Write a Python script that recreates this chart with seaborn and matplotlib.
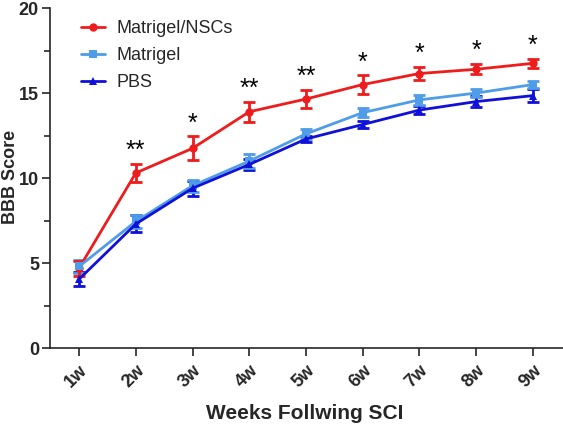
import pandas as pd
import matplotlib
matplotlib.use("Agg")
import matplotlib.pyplot as plt
import seaborn as sns

weeks = ["1w", "2w", "3w", "4w", "5w", "6w", "7w", "8w", "9w"]
nsc_mean = [4.7, 10.3, 11.75, 13.9, 14.65, 15.5, 16.15, 16.4, 16.75]
nsc_err = [0.45, 0.55, 0.7, 0.6, 0.55, 0.55, 0.4, 0.3, 0.25]
mat_mean = [4.8, 7.45, 9.55, 11.0, 12.6, 13.85, 14.6, 15.0, 15.5]
mat_err = [0.4, 0.4, 0.35, 0.4, 0.3, 0.25, 0.3, 0.25, 0.2]
pbs_mean = [4.05, 7.3, 9.4, 10.8, 12.3, 13.15, 14.0, 14.5, 14.85]
pbs_err = [0.4, 0.5, 0.45, 0.35, 0.2, 0.2, 0.25, 0.3, 0.4]
stars = ["", "**", "*", "**", "**", "*", "*", "*", "*"]

groups = ["Matrigel/NSCs", "Matrigel", "PBS"]
colors = {"Matrigel/NSCs": "#ee1c1c", "Matrigel": "#4f9ce8", "PBS": "#1010d8"}
markers = {"Matrigel/NSCs": "o", "Matrigel": "s", "PBS": "^"}

rows = []
for g, m, e in zip(groups, [nsc_mean, mat_mean, pbs_mean], [nsc_err, mat_err, pbs_err]):
    for i, w in enumerate(weeks):
        rows.append({"week": w, "pos": i, "group": g, "score": m[i], "err": e[i]})
df = pd.DataFrame(rows)

sns.set_style("ticks")
plt.rcParams["font.family"] = ["Liberation Sans", "DejaVu Sans"]

fig = plt.figure(figsize=(5.63, 4.24), dpi=100)
ax = fig.add_axes([0.089, 0.179, 0.911, 0.802])

# draw back to front: PBS, Matrigel, NSCs
for g in ["PBS", "Matrigel", "Matrigel/NSCs"]:
    d = df[df["group"] == g]
    ax.errorbar(d["pos"], d["score"], yerr=d["err"], fmt="none",
                ecolor=colors[g], elinewidth=2, capsize=4, capthick=2, zorder=2)

sns.lineplot(data=df, x="pos", y="score", hue="group", style="group",
             hue_order=groups, style_order=groups, palette=colors,
             markers=markers, dashes=False, linewidth=2, markersize=6,
             markeredgewidth=0, ax=ax, zorder=3)

for i, s in enumerate(stars):
    if s:
        ax.text(i, nsc_mean[i] + nsc_err[i] + 0.05, s, ha="center", va="bottom",
                fontsize=18, color="black")

ax.set_xlim(-0.51, 8.53)
ax.set_ylim(0, 20)
ax.set_xticks(range(len(weeks)))
ax.set_xticklabels(weeks, rotation=45, ha="right", rotation_mode="anchor",
                   fontsize=13, fontweight="bold")
ax.set_yticks([0, 5, 10, 15, 20])
ax.set_yticks([2.5, 7.5, 12.5, 17.5], minor=True)
ax.tick_params(axis="y", labelsize=13, width=1.2, length=6, pad=2)
ax.tick_params(axis="y", which="minor", width=1.2, length=4)
ax.tick_params(axis="x", width=1.2, length=6, pad=4)
for lab in ax.get_yticklabels():
    lab.set_fontweight("bold")
ax.set_xlabel("Weeks Follwing SCI", fontsize=15, fontweight="bold")
ax.set_ylabel("BBB Score", fontsize=13, fontweight="bold")
ax.xaxis.set_label_coords(0.497, -0.165)
ax.yaxis.set_label_coords(-0.061, 0.503)
sns.despine(ax=ax)
ax.spines["left"].set_linewidth(1.2)
ax.spines["bottom"].set_linewidth(1.2)

leg = ax.legend(loc="upper left", bbox_to_anchor=(0.028, 1.012), frameon=False,
                fontsize=13, handlelength=1.35, handletextpad=0.65, labelspacing=0.55)

fig.savefig("out.png", dpi=100)
